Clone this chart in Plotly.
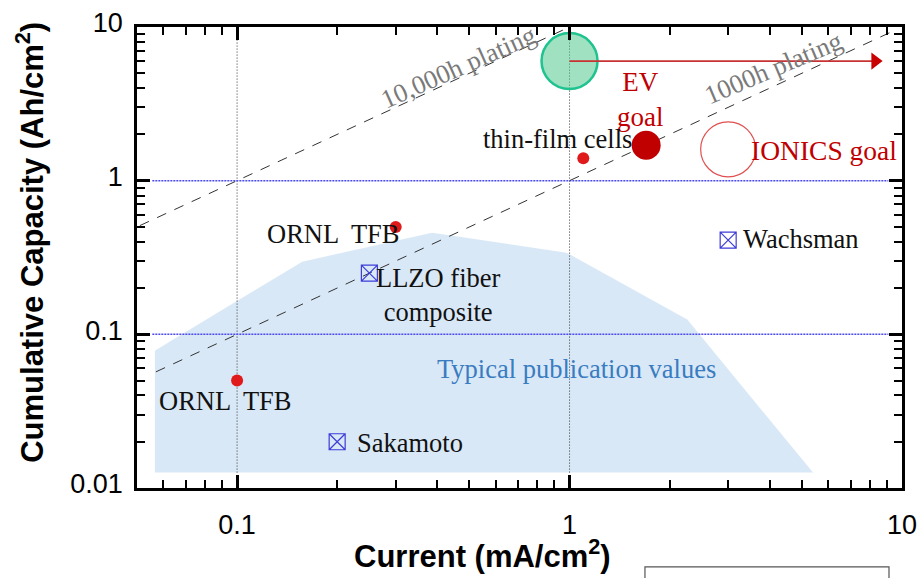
import numpy as np
import plotly.graph_objects as go

# ---------------- data ----------------
# shaded region "Typical publication values"
region_current = [0.0566, 0.0566, 0.0628, 0.157, 0.386, 0.98, 2.26, 5.4]
region_capacity = [0.0126, 0.0783, 0.0897, 0.297, 0.459, 0.34, 0.125, 0.0126]

# plating reference lines: capacity (Ah/cm2) = current (mA/cm2) * hours / 1000
plating_hours = [10000, 1000]
plating_current_start = [0.051, 0.057]
plating_current_end = [1.0, 9.6]

# red circles (ORNL TFB x2, thin-film cells)
red_current = [0.1, 0.3, 1.1]
red_capacity = [0.05, 0.5, 1.4]

# EV goal (filled dark red), IONICS goal (open circle)
ev_current = [1.7]
ev_capacity = [1.7]
ionics_current = [3.0]
ionics_capacity = [1.6]

# green target with arrow
target_current = [1.0]
target_capacity = [6.0]
target_arrow_end = [8.3]

# crossed-box points (LLZO fiber composite, Wachsman, Sakamoto)
box_current = [0.25, 3.0, 0.2]
box_capacity = [0.25, 0.41, 0.02]

# guide lines
vgrid_current = [0.1, 1.0]
hgrid_capacity = [0.1, 1.0]

x_ticks = [0.1, 1, 10]
x_ticktext = ["0.1", "1", "10"]
y_ticks = [0.01, 0.1, 1, 10]
y_ticktext = ["0.01", "0.1", "1", "10"]

# labels: text, current, capacity
label_text = ["10,000h plating", "1000h plating", "EV<br>goal", "thin-film cells",
              "IONICS goal", "ORNL  TFB", "ORNL  TFB", "LLZO fiber<br>composite",
              "Wachsman", "Sakamoto", "Typical publication values"]
label_current = [0.463, 4.09, 1.64, 0.92, 5.82, 0.195, 0.0926, 0.403, 4.97, 0.332, 1.05]
label_capacity = [5.52, 5.43, 3.37, 1.86, 1.57, 0.452, 0.037, 0.18, 0.42, 0.0197, 0.0595]

# ---------------- styles ----------------
SERIF = "Times New Roman, Liberation Serif, serif"
SANS = "Arial, Liberation Sans, sans-serif"
label_color = ["#7a7a7a", "#7a7a7a", "#c00000", "#111111", "#c00000", "#111111",
               "#111111", "#111111", "#111111", "#111111", "#3a7cc0"]
label_angle = [-24, -23, 0, 0, 0, 0, 0, 0, 0, 0, 0]
label_size = [26.5, 26.5, 27, 26.5, 27.5, 26.5, 26.5, 26.5, 26.5, 26.5, 26.5]

fig = go.Figure()

# shaded region
fig.add_trace(go.Scatter(
    x=region_current, y=region_capacity, mode="lines", fill="toself",
    fillcolor="rgba(186,214,240,0.55)", line=dict(width=0), hoverinfo="skip"))

# grid guide lines
xmin_g, xmax_g = 0.0556, 9.1
ymin_g, ymax_g = 0.0126, 8.3
for xv in vgrid_current:
    fig.add_trace(go.Scatter(x=[xv, xv], y=[ymin_g, ymax_g], mode="lines",
                             line=dict(color="#333333", width=1, dash="1px,2px"),
                             hoverinfo="skip"))
for yv in hgrid_capacity:
    fig.add_trace(go.Scatter(x=[xmin_g, xmax_g], y=[yv, yv], mode="lines",
                             line=dict(color="#4b4bf0", width=1.5, dash="2px,1px"),
                             hoverinfo="skip"))

# plating lines
for h, x0, x1 in zip(plating_hours, plating_current_start, plating_current_end):
    fig.add_trace(go.Scatter(x=[x0, x1], y=[x0 * h / 1000, x1 * h / 1000], mode="lines",
                             line=dict(color="#333333", width=1, dash="10px,9px"),
                             hoverinfo="skip"))

# green target circle
fig.add_trace(go.Scatter(
    x=target_current, y=target_capacity, mode="markers",
    marker=dict(size=56, color="rgba(80,200,140,0.55)",
                line=dict(color="#1fc38f", width=2.5)), hoverinfo="skip"))
# arrow
fig.add_trace(go.Scatter(
    x=[target_current[0], target_arrow_end[0]], y=[target_capacity[0], target_capacity[0]],
    mode="lines", line=dict(color="#c83232", width=1.8), hoverinfo="skip"))
fig.add_trace(go.Scatter(
    x=target_arrow_end, y=target_capacity, mode="markers",
    marker=dict(symbol="triangle-right", size=15, color="#c80000", line=dict(width=0)),
    hoverinfo="skip"))

# IONICS goal open circle
fig.add_trace(go.Scatter(
    x=ionics_current, y=ionics_capacity, mode="markers",
    marker=dict(size=55, color="rgba(0,0,0,0)", line=dict(color="#e05050", width=1.2)),
    hoverinfo="skip"))

# EV goal filled
fig.add_trace(go.Scatter(
    x=ev_current, y=ev_capacity, mode="markers",
    marker=dict(size=29, color="#c00000", line=dict(width=0)), hoverinfo="skip"))

# red dots
fig.add_trace(go.Scatter(
    x=red_current, y=red_capacity, mode="markers",
    marker=dict(size=12, color="#e01a1a", line=dict(width=0)), hoverinfo="skip"))

# crossed boxes
fig.add_trace(go.Scatter(
    x=box_current, y=box_capacity, mode="markers",
    marker=dict(symbol="square-x-open", size=16, color="#3c3cd8", line=dict(width=1.2)),
    hoverinfo="skip"))

# labels
for t, xv, yv, c, a, s in zip(label_text, label_current, label_capacity,
                              label_color, label_angle, label_size):
    fig.add_annotation(x=np.log10(xv), y=np.log10(yv), xref="x", yref="y", text=t,
                       showarrow=False, textangle=a, xanchor="center", yanchor="middle",
                       font=dict(family=SERIF, size=s, color=c))

# axis titles
fig.add_annotation(x=0.451, y=-0.143, xref="paper", yref="paper",
                   text="<b>Current (mA/cm<sup>2</sup>)</b>", showarrow=False,
                   xanchor="center", yanchor="middle",
                   font=dict(family=SANS, size=31, color="black"))
fig.add_annotation(x=-0.1399, y=0.534, xref="paper", yref="paper",
                   text="<b>Cumulative Capacity (Ah/cm<sup>2</sup>)</b>", showarrow=False,
                   textangle=-90, xanchor="center", yanchor="middle",
                   font=dict(family=SANS, size=31, color="black"))

# stray text box outline at the bottom right
fig.add_shape(type="rect", xref="paper", yref="paper", x0=0.664, x1=0.983,
              y0=-0.30, y1=-0.171, line=dict(color="#555555", width=1.2),
              fillcolor="white")

minor_x = [k * 10.0 ** e for e in range(-2, 1) for k in range(2, 10)]
minor_y = [k * 10.0 ** e for e in range(-2, 1) for k in range(2, 10)]

common = dict(type="log", showline=True, linewidth=2.5, linecolor="black",
              mirror="allticks", ticks="inside", ticklen=13, tickwidth=2.5,
              tickcolor="black", showgrid=False, zeroline=False, automargin=False,
              tickfont=dict(family=SANS, size=27, color="black"))

fig.update_xaxes(range=[np.log10(0.05), 1], tickvals=x_ticks, ticktext=x_ticktext,
                 minor=dict(tickvals=minor_x, ticks="inside", ticklen=8, tickwidth=2,
                            tickcolor="black", showgrid=False),
                 ticklabelstandoff=11, **common)
fig.update_yaxes(range=[-2, 1], tickvals=y_ticks, ticktext=y_ticktext,
                 minor=dict(tickvals=minor_y, ticks="inside", ticklen=8, tickwidth=2,
                            tickcolor="black", showgrid=False),
                 ticklabelstandoff=6, ticklabelshift=-4, **common)

fig.update_layout(width=919, height=578, margin=dict(l=137, r=17, t=27, b=90),
                  plot_bgcolor="white", paper_bgcolor="white", showlegend=False)

fig.write_html("out.html", config={"displayModeBar": False})
